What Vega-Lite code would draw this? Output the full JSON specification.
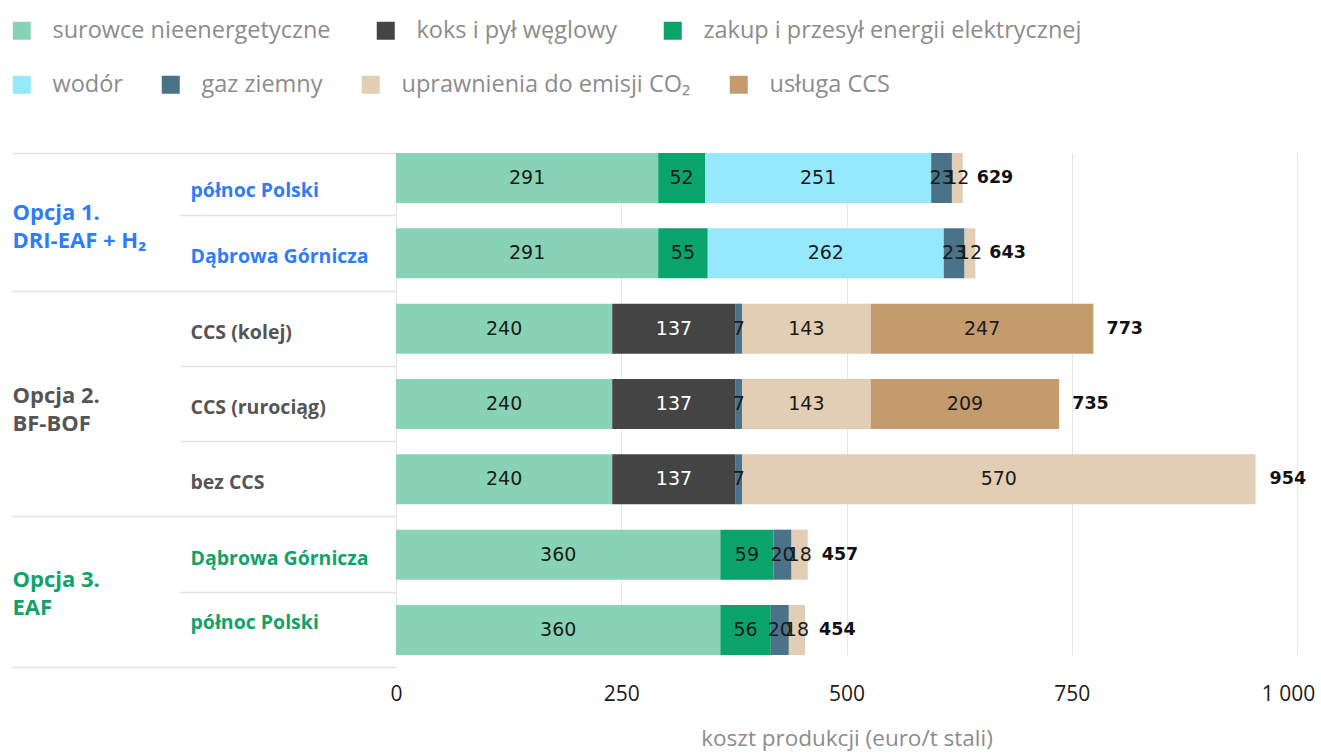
{
  "$schema": "https://vega.github.io/schema/vega-lite/v6.json",
  "width": 901,
  "height": 502,
  "autosize": {"type": "none"},
  "padding": {"left": 396, "top": 153, "right": 24, "bottom": 99},
  "config": {
    "view": {"stroke": null},
    "font": "Open Sans",
    "axis": {"labelFont": "Open Sans", "titleFont": "Open Sans"},
    "legend": {"labelFont": "Open Sans"}
  },
  "datasets": {
    "segmenty": [
      {"wariant": "Opcja 1.|DRI-EAF + H₂|północ Polski", "skladnik": "surowce nieenergetyczne", "nr": 1, "koszt": 291},
      {"wariant": "Opcja 1.|DRI-EAF + H₂|północ Polski", "skladnik": "zakup i przesył energii elektrycznej", "nr": 3, "koszt": 52},
      {"wariant": "Opcja 1.|DRI-EAF + H₂|północ Polski", "skladnik": "wodór", "nr": 4, "koszt": 251},
      {"wariant": "Opcja 1.|DRI-EAF + H₂|północ Polski", "skladnik": "gaz ziemny", "nr": 5, "koszt": 23},
      {"wariant": "Opcja 1.|DRI-EAF + H₂|północ Polski", "skladnik": "uprawnienia do emisji CO₂", "nr": 6, "koszt": 12},
      {"wariant": "Opcja 1.|DRI-EAF + H₂|Dąbrowa Górnicza", "skladnik": "surowce nieenergetyczne", "nr": 1, "koszt": 291},
      {"wariant": "Opcja 1.|DRI-EAF + H₂|Dąbrowa Górnicza", "skladnik": "zakup i przesył energii elektrycznej", "nr": 3, "koszt": 55},
      {"wariant": "Opcja 1.|DRI-EAF + H₂|Dąbrowa Górnicza", "skladnik": "wodór", "nr": 4, "koszt": 262},
      {"wariant": "Opcja 1.|DRI-EAF + H₂|Dąbrowa Górnicza", "skladnik": "gaz ziemny", "nr": 5, "koszt": 23},
      {"wariant": "Opcja 1.|DRI-EAF + H₂|Dąbrowa Górnicza", "skladnik": "uprawnienia do emisji CO₂", "nr": 6, "koszt": 12},
      {"wariant": "Opcja 2.|BF-BOF|CCS (kolej)", "skladnik": "surowce nieenergetyczne", "nr": 1, "koszt": 240},
      {"wariant": "Opcja 2.|BF-BOF|CCS (kolej)", "skladnik": "koks i pył węglowy", "nr": 2, "koszt": 137},
      {"wariant": "Opcja 2.|BF-BOF|CCS (kolej)", "skladnik": "gaz ziemny", "nr": 5, "koszt": 7},
      {"wariant": "Opcja 2.|BF-BOF|CCS (kolej)", "skladnik": "uprawnienia do emisji CO₂", "nr": 6, "koszt": 143},
      {"wariant": "Opcja 2.|BF-BOF|CCS (kolej)", "skladnik": "usługa CCS", "nr": 7, "koszt": 247},
      {"wariant": "Opcja 2.|BF-BOF|CCS (rurociąg)", "skladnik": "surowce nieenergetyczne", "nr": 1, "koszt": 240},
      {"wariant": "Opcja 2.|BF-BOF|CCS (rurociąg)", "skladnik": "koks i pył węglowy", "nr": 2, "koszt": 137},
      {"wariant": "Opcja 2.|BF-BOF|CCS (rurociąg)", "skladnik": "gaz ziemny", "nr": 5, "koszt": 7},
      {"wariant": "Opcja 2.|BF-BOF|CCS (rurociąg)", "skladnik": "uprawnienia do emisji CO₂", "nr": 6, "koszt": 143},
      {"wariant": "Opcja 2.|BF-BOF|CCS (rurociąg)", "skladnik": "usługa CCS", "nr": 7, "koszt": 209},
      {"wariant": "Opcja 2.|BF-BOF|bez CCS", "skladnik": "surowce nieenergetyczne", "nr": 1, "koszt": 240},
      {"wariant": "Opcja 2.|BF-BOF|bez CCS", "skladnik": "koks i pył węglowy", "nr": 2, "koszt": 137},
      {"wariant": "Opcja 2.|BF-BOF|bez CCS", "skladnik": "gaz ziemny", "nr": 5, "koszt": 7},
      {"wariant": "Opcja 2.|BF-BOF|bez CCS", "skladnik": "uprawnienia do emisji CO₂", "nr": 6, "koszt": 570},
      {"wariant": "Opcja 3.|EAF|Dąbrowa Górnicza", "skladnik": "surowce nieenergetyczne", "nr": 1, "koszt": 360},
      {"wariant": "Opcja 3.|EAF|Dąbrowa Górnicza", "skladnik": "zakup i przesył energii elektrycznej", "nr": 3, "koszt": 59},
      {"wariant": "Opcja 3.|EAF|Dąbrowa Górnicza", "skladnik": "gaz ziemny", "nr": 5, "koszt": 20},
      {"wariant": "Opcja 3.|EAF|Dąbrowa Górnicza", "skladnik": "uprawnienia do emisji CO₂", "nr": 6, "koszt": 18},
      {"wariant": "Opcja 3.|EAF|północ Polski", "skladnik": "surowce nieenergetyczne", "nr": 1, "koszt": 360},
      {"wariant": "Opcja 3.|EAF|północ Polski", "skladnik": "zakup i przesył energii elektrycznej", "nr": 3, "koszt": 56},
      {"wariant": "Opcja 3.|EAF|północ Polski", "skladnik": "gaz ziemny", "nr": 5, "koszt": 20},
      {"wariant": "Opcja 3.|EAF|północ Polski", "skladnik": "uprawnienia do emisji CO₂", "nr": 6, "koszt": 18}
    ],
    "sumy": [
      {"wariant": "Opcja 1.|DRI-EAF + H₂|północ Polski", "suma": 629},
      {"wariant": "Opcja 1.|DRI-EAF + H₂|Dąbrowa Górnicza", "suma": 643},
      {"wariant": "Opcja 2.|BF-BOF|CCS (kolej)", "suma": 773},
      {"wariant": "Opcja 2.|BF-BOF|CCS (rurociąg)", "suma": 735},
      {"wariant": "Opcja 2.|BF-BOF|bez CCS", "suma": 954},
      {"wariant": "Opcja 3.|EAF|Dąbrowa Górnicza", "suma": 457},
      {"wariant": "Opcja 3.|EAF|północ Polski", "suma": 454}
    ]
  },
  "layer": [
    {
      "data": {"name": "segmenty"},
      "transform": [
        {"stack": "koszt", "groupby": ["wariant"], "sort": [{"field": "nr", "order": "ascending"}], "as": ["x0", "x1"]},
        {"filter": {"field": "skladnik", "oneOf": ["surowce nieenergetyczne", "koks i pył węglowy", "zakup i przesył energii elektrycznej"]}}
      ],
      "mark": {"type": "bar"},
      "encoding": {
        "y": {
          "field": "wariant", "type": "nominal", "title": null,
          "scale": {"domain": ["Opcja 1.|DRI-EAF + H₂|północ Polski", "Opcja 1.|DRI-EAF + H₂|Dąbrowa Górnicza", "Opcja 2.|BF-BOF|CCS (kolej)", "Opcja 2.|BF-BOF|CCS (rurociąg)", "Opcja 2.|BF-BOF|bez CCS", "Opcja 3.|EAF|Dąbrowa Górnicza", "Opcja 3.|EAF|północ Polski"], "paddingInner": 0.336, "paddingOuter": 0},
          "axis": {
            "orient": "left", "domain": false, "grid": false, "ticks": false, "tickSize": 0,
            "labelAlign": "left", "labelPadding": 206, "labelLimit": 400,
            "labelExpr": "split(datum.value, '|')[2]",
            "labelFontSize": 19.5, "labelFontWeight": "bold",
            "labelOffset": {"condition": [{"test": "datum.index == 0", "value": 13}, {"test": "datum.index == 1", "value": -7}], "value": 4},
            "labelColor": {"condition": [{"test": "indexof(datum.value, 'Opcja 1.') == 0", "value": "#2f7df6"}, {"test": "indexof(datum.value, 'Opcja 3.') == 0", "value": "#0fa36b"}], "value": "#555555"}
          }
        },
        "x": {
          "field": "x0", "type": "quantitative",
          "scale": {"domain": [0, 1000], "nice": false},
          "axis": {"values": [0, 250, 500, 750, 1000], "labelExpr": "replace(format(datum.value, ','), ',', ' ')", "domain": false, "ticks": false, "tickSize": 0, "grid": true, "gridColor": "#e6e6e6", "gridWidth": 1, "labelFontSize": 21, "labelColor": "#1a1a1a", "labelPadding": 28, "labelFlush": false, "labelOffset": {"condition": {"test": "datum.value == 1000", "value": -9}, "value": 0}, "title": "koszt produkcji (euro/t stali)", "titleFontSize": 22.5, "titleFontWeight": "normal", "titleColor": "#8c8c8c", "titlePadding": 23}
        },
        "x2": {"field": "x1"},
        "color": {
          "field": "skladnik", "type": "nominal",
          "scale": {"domain": ["surowce nieenergetyczne", "koks i pył węglowy", "zakup i przesył energii elektrycznej"], "range": ["#88d3b5", "#444444", "#0aa36b"]},
          "legend": {"orient": "none", "legendX": -386, "legendY": -134, "direction": "horizontal", "columns": 3, "gridAlign": "none", "title": null, "symbolType": "square", "symbolSize": 324, "symbolStrokeWidth": 0, "symbolOpacity": 1, "labelFontSize": 23.5, "labelColor": "#8c8c8c", "labelLimit": 500, "labelOffset": 19, "columnPadding": 43, "padding": 0}
        }
      }
    },
    {
      "data": {"name": "segmenty"},
      "transform": [
        {"stack": "koszt", "groupby": ["wariant"], "sort": [{"field": "nr", "order": "ascending"}], "as": ["x0", "x1"]},
        {"filter": {"field": "skladnik", "oneOf": ["wodór", "gaz ziemny", "uprawnienia do emisji CO₂", "usługa CCS"]}}
      ],
      "mark": {"type": "bar"},
      "encoding": {
        "y": {
          "field": "wariant", "type": "nominal", "title": null,
          "scale": {"domain": ["Opcja 1.|DRI-EAF + H₂|północ Polski", "Opcja 1.|DRI-EAF + H₂|Dąbrowa Górnicza", "Opcja 2.|BF-BOF|CCS (kolej)", "Opcja 2.|BF-BOF|CCS (rurociąg)", "Opcja 2.|BF-BOF|bez CCS", "Opcja 3.|EAF|Dąbrowa Górnicza", "Opcja 3.|EAF|północ Polski"], "paddingInner": 0.336, "paddingOuter": 0},
          "axis": {
            "orient": "left", "domain": false, "grid": false, "labels": false, "ticks": true,
            "tickColor": "#e3e3e3", "tickWidth": 1.5, "bandPosition": 1.253, "tickExtra": true,
            "tickSize": {"condition": {"test": "datum.extra || datum.value == 'Opcja 1.|DRI-EAF + H₂|Dąbrowa Górnicza' || datum.value == 'Opcja 2.|BF-BOF|bez CCS' || datum.value == 'Opcja 3.|EAF|północ Polski'", "value": 384}, "value": 216}
          }
        },
        "x": {
          "field": "x0", "type": "quantitative",
          "scale": {"domain": [0, 1000], "nice": false},
          "axis": {"values": [0, 250, 500, 750, 1000], "labelExpr": "replace(format(datum.value, ','), ',', ' ')", "domain": false, "ticks": false, "tickSize": 0, "grid": true, "gridColor": "#e6e6e6", "gridWidth": 1, "labelFontSize": 21, "labelColor": "#1a1a1a", "labelPadding": 28, "labelFlush": false, "labelOffset": {"condition": {"test": "datum.value == 1000", "value": -9}, "value": 0}, "title": "koszt produkcji (euro/t stali)", "titleFontSize": 22.5, "titleFontWeight": "normal", "titleColor": "#8c8c8c", "titlePadding": 23}
        },
        "x2": {"field": "x1"},
        "fill": {
          "field": "skladnik", "type": "nominal",
          "scale": {"domain": ["wodór", "gaz ziemny", "uprawnienia do emisji CO₂", "usługa CCS"], "range": ["#96e8fc", "#4a7389", "#e2cdb5", "#c49b6d"]},
          "legend": {"orient": "none", "legendX": -386, "legendY": -80, "direction": "horizontal", "columns": 4, "gridAlign": "none", "title": null, "symbolType": "square", "symbolSize": 324, "symbolStrokeWidth": 0, "symbolOpacity": 1, "labelFontSize": 23.5, "labelColor": "#8c8c8c", "labelLimit": 500, "labelOffset": 19, "columnPadding": 36, "padding": 0}
        }
      }
    },
    {
      "data": {"name": "segmenty"},
      "mark": {"type": "text", "fontSize": 19, "font": "DejaVu Sans"},
      "encoding": {
        "y": {
          "field": "wariant", "type": "nominal", "title": null,
          "scale": {"domain": ["Opcja 1.|DRI-EAF + H₂|północ Polski", "Opcja 1.|DRI-EAF + H₂|Dąbrowa Górnicza", "Opcja 2.|BF-BOF|CCS (kolej)", "Opcja 2.|BF-BOF|CCS (rurociąg)", "Opcja 2.|BF-BOF|bez CCS", "Opcja 3.|EAF|Dąbrowa Górnicza", "Opcja 3.|EAF|północ Polski"], "paddingInner": 0.336, "paddingOuter": 0},
          "axis": {
            "orient": "left", "domain": false, "grid": false, "ticks": false, "tickSize": 0,
            "labelAlign": "left", "labelPadding": 384, "labelLimit": 400,
            "labelExpr": "(datum.index == 0 || datum.index == 0.5 || (datum.index > 0.8 && datum.index < 0.9)) ? slice(split(datum.value, '|'), 0, 2) : ''",
            "labelOffset": {"condition": [{"test": "datum.index == 0", "value": 35}, {"test": "datum.index == 0.5", "value": -8}], "value": 25},
            "labelFontSize": 22, "labelFontWeight": "bold", "labelLineHeight": 28,
            "labelColor": {"condition": [{"test": "indexof(datum.value, 'Opcja 1.') == 0", "value": "#2f7df6"}, {"test": "indexof(datum.value, 'Opcja 3.') == 0", "value": "#0fa36b"}], "value": "#555555"}
          }
        },
        "x": {
          "field": "koszt", "type": "quantitative", "stack": "zero", "bandPosition": 0.5,
          "scale": {"domain": [0, 1000], "nice": false},
          "axis": {"values": [0, 250, 500, 750, 1000], "labelExpr": "replace(format(datum.value, ','), ',', ' ')", "domain": false, "ticks": false, "tickSize": 0, "grid": true, "gridColor": "#e6e6e6", "gridWidth": 1, "labelFontSize": 21, "labelColor": "#1a1a1a", "labelPadding": 28, "labelFlush": false, "labelOffset": {"condition": {"test": "datum.value == 1000", "value": -9}, "value": 0}, "title": "koszt produkcji (euro/t stali)", "titleFontSize": 22.5, "titleFontWeight": "normal", "titleColor": "#8c8c8c", "titlePadding": 23}
        },
        "order": {"field": "nr", "type": "quantitative"},
        "detail": {"field": "skladnik", "type": "nominal"},
        "text": {"field": "koszt", "type": "quantitative"},
        "color": {"condition": {"test": "datum.skladnik == 'koks i pył węglowy'", "value": "#ffffff"}, "value": "#1a1a1a"}
      }
    },
    {
      "data": {"name": "sumy"},
      "mark": {"type": "text", "align": "left", "dx": 14, "fontSize": 17.5, "fontWeight": "bold", "font": "DejaVu Sans", "color": "#111111"},
      "encoding": {
        "y": {
          "field": "wariant", "type": "nominal", "title": null,
          "scale": {"domain": ["Opcja 1.|DRI-EAF + H₂|północ Polski", "Opcja 1.|DRI-EAF + H₂|Dąbrowa Górnicza", "Opcja 2.|BF-BOF|CCS (kolej)", "Opcja 2.|BF-BOF|CCS (rurociąg)", "Opcja 2.|BF-BOF|bez CCS", "Opcja 3.|EAF|Dąbrowa Górnicza", "Opcja 3.|EAF|północ Polski"], "paddingInner": 0.336, "paddingOuter": 0},
          "axis": null
        },
        "x": {
          "field": "suma", "type": "quantitative",
          "scale": {"domain": [0, 1000], "nice": false},
          "axis": {"values": [0, 250, 500, 750, 1000], "labelExpr": "replace(format(datum.value, ','), ',', ' ')", "domain": false, "ticks": false, "tickSize": 0, "grid": true, "gridColor": "#e6e6e6", "gridWidth": 1, "labelFontSize": 21, "labelColor": "#1a1a1a", "labelPadding": 28, "labelFlush": false, "labelOffset": {"condition": {"test": "datum.value == 1000", "value": -9}, "value": 0}, "title": "koszt produkcji (euro/t stali)", "titleFontSize": 22.5, "titleFontWeight": "normal", "titleColor": "#8c8c8c", "titlePadding": 23}
        },
        "text": {"field": "suma", "type": "quantitative"}
      }
    }
  ],
  "resolve": {"axis": {"y": "independent"}}
}
